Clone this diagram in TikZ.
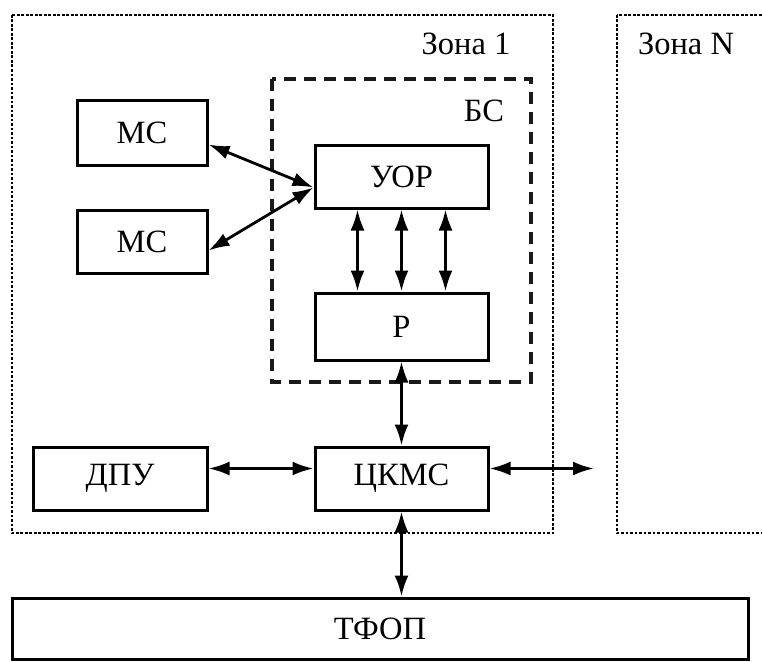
\documentclass[tikz,border=0pt]{standalone}
\usepackage{fontspec}
\setmainfont{Liberation Serif}
\usetikzlibrary{arrows.meta}
\begin{document}
\begin{tikzpicture}[x=1pt,y=-1pt,
  blk/.style={draw=black, line width=3pt, minimum width=#1, inner sep=0pt, font=\fontsize{32.5}{38}\selectfont},
  zone/.style={draw=black, line width=2.6pt, dash pattern=on 2.6pt off 1.9pt},
  bsbox/.style={draw=black!90, line width=3.2pt, dash pattern=on 12pt off 8pt},
  lbl/.style={inner sep=0pt, font=\fontsize{32.5}{38}\selectfont},
  link/.style={line width=2.8pt, {Latex[length=21pt,width=14pt]}-{Latex[length=21pt,width=14pt]}}
]
\useasboundingbox (0,0) rectangle (762,661);
\clip (0,0) rectangle (762,661);
% zones
\draw[zone] (12,15) rectangle (553,533);
\draw[zone] (617,15) rectangle (790,533);
\node[lbl] (z1) at (466,44) {Зона 1};
\node[lbl] (zn) at (686,44) {Зона N};
% BS
\draw[bsbox] (272,79) rectangle (531,382);
\node[lbl] (bs) at (484,111) {БС};
% blocks
\node[blk=130pt, minimum height=65pt] (ms1) at (142,132.5) {МС};
\node[blk=130pt, minimum height=63pt] (ms2) at (142,241.5) {МС};
\node[blk=173pt, minimum height=63pt] (uor) at (401.5,176.5) {УОР};
\node[blk=173pt, minimum height=67pt] (r) at (401.5,326.5) {Р};
\node[blk=174pt, minimum height=63pt] (dpu) at (120,478.5) {ДПУ};
\node[blk=173pt, minimum height=63pt] (ckms) at (401.5,478.5) {ЦКМС};
\node[blk=736pt, minimum height=61pt] (tfop) at (380,628.5) {ТФОП};
% connectors
\coordinate (uin) at ([yshift=-11pt]uor.west);
\draw[link] ([yshift=-12pt]ms1.east) -- (uin);
\draw[link] ([yshift=-9pt]ms2.east) -- (uin);
\draw[link] ([xshift=-44pt]uor.south) -- ([xshift=-44pt]r.north);
\draw[link] (uor.south) -- (r.north);
\draw[link] ([xshift=44pt]uor.south) -- ([xshift=44pt]r.north);
\draw[link] (r.south) -- (ckms.north);
\draw[link] ([yshift=10pt]dpu.east) -- ([yshift=10pt]ckms.west);
\coordinate (out) at (594,468.5);
\draw[link] ([yshift=10pt]ckms.east) -- (out);
\draw[link] (ckms.south) -- (ckms.south |- tfop.north);
\end{tikzpicture}
\end{document}
